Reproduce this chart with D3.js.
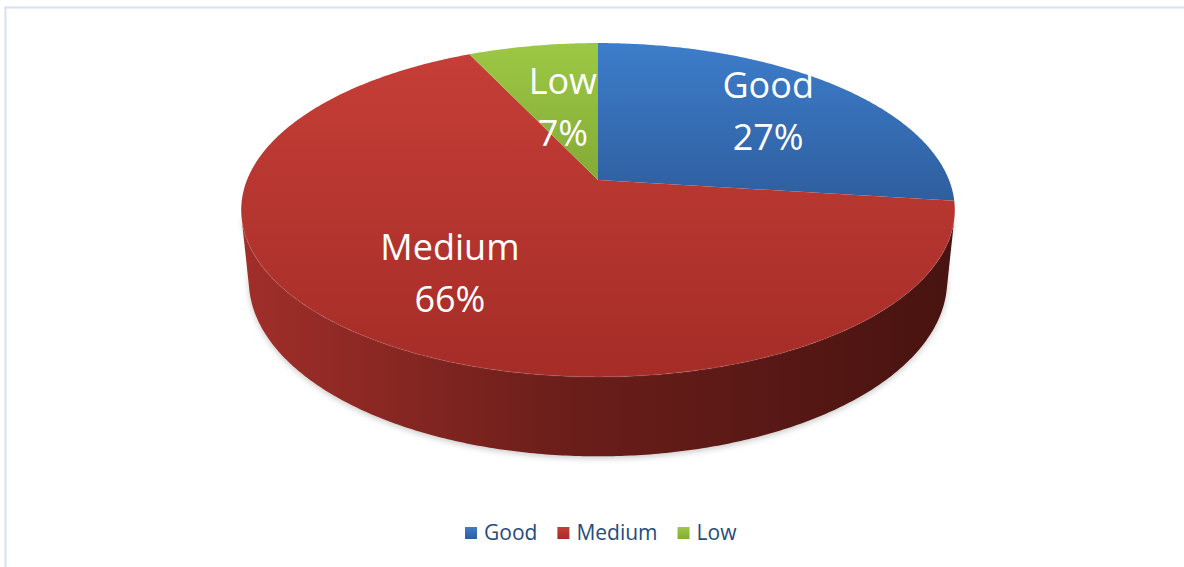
<!DOCTYPE html>
<html>
<head>
<meta charset="utf-8">
<script src="https://cdn.jsdelivr.net/npm/d3@7"></script>
<style>
  html, body { margin: 0; padding: 0; background: #fff; }
  svg { display: block; }
  text { font-family: "Open Sans", "Noto Sans", sans-serif; }
</style>
</head>
<body>
<svg id="chart" width="1184" height="567"></svg>
<script>
// Ratings share
const categories = ["Good", "Medium", "Low"];
const values = [27, 66, 7];
const percentLabels = ["27%", "66%", "7%"];

// Fill tones per category: top face (light, dark) and side wall (light, dark)
const topLight = ["#3d7dca", "#c53e37", "#9cc845"];
const topDark = ["#2e5e9f", "#a52c27", "#83ab36"];
const sideLight = ["#2c5a96", "#a02e29", "#7a9c33"];
const sideDark = ["#142c4c", "#481310", "#3d5019"];

const W = 1184, H = 567;
const svg = d3.select("#chart");

// Frame lines along the top and left edges
svg.append("line").attr("x1", 5).attr("y1", 7.5).attr("x2", W).attr("y2", 7.5)
  .attr("stroke", "#d4e2f3").attr("stroke-width", 2);
svg.append("line").attr("x1", 5.5).attr("y1", 6.5).attr("x2", 5.5).attr("y2", H)
  .attr("stroke", "#d4e2f3").attr("stroke-width", 2);

// Perspective view of a flat cylinder
const cx = 598, cy = 180;      // projected centre of the top face
const R = 351;                 // disk radius
const tilt = 27.4 * Math.PI / 180;
const sinT = Math.sin(tilt), cosT = Math.cos(tilt);
const dist = 1735;             // camera distance
const thick = 80;              // cylinder height

// a: angle clockwise from the far side, r: radius fraction, z: height (0 top, -thick bottom)
function project(a, r, z) {
  const u = r * R * Math.sin(a);
  const v = -r * R * Math.cos(a);
  const k = dist / (dist - (v * cosT + z * sinT));
  return [cx + u * k, cy + (v * sinT - z * cosT) * k];
}

const pie = d3.pie().sort(null).value(d => d).startAngle(0).endAngle(2 * Math.PI);
const arcs = pie(values);

const line = d3.line().curve(d3.curveLinear);
const closed = d3.line().curve(d3.curveLinearClosed);

function arcPoints(a0, a1, r, z) {
  const n = Math.max(2, Math.ceil((a1 - a0) / 0.01));
  return d3.range(n + 1).map(i => project(a0 + (a1 - a0) * i / n, r, z));
}

const defs = svg.append("defs");

// soft shadow under the disk
const blur = defs.append("filter").attr("id", "soft")
  .attr("x", "-10%").attr("y", "-10%").attr("width", "120%").attr("height", "130%");
blur.append("feGaussianBlur").attr("stdDeviation", 3);

categories.forEach((c, i) => {
  const gt = defs.append("linearGradient").attr("id", "top" + i)
    .attr("x1", 0).attr("y1", 0).attr("x2", 0).attr("y2", 1);
  gt.append("stop").attr("offset", "0%").attr("stop-color", topLight[i]);
  gt.append("stop").attr("offset", "100%").attr("stop-color", topDark[i]);

  const gs = defs.append("linearGradient").attr("id", "side" + i)
    .attr("gradientUnits", "userSpaceOnUse")
    .attr("x1", cx - R).attr("y1", 0).attr("x2", cx + R).attr("y2", 0);
  gs.append("stop").attr("offset", "0%").attr("stop-color", sideLight[i]);
  gs.append("stop").attr("offset", "45%").attr("stop-color", d3.interpolateRgb(sideLight[i], sideDark[i])(0.6));
  gs.append("stop").attr("offset", "100%").attr("stop-color", sideDark[i]);

  const gl = defs.append("linearGradient").attr("id", "key" + i)
    .attr("x1", 0).attr("y1", 0).attr("x2", 0).attr("y2", 1);
  gl.append("stop").attr("offset", "0%").attr("stop-color", topLight[i]);
  gl.append("stop").attr("offset", "100%").attr("stop-color", topDark[i]);
});

// Silhouette of the wall: tangent points seen from the camera
const camV = dist * cosT;
const aS = Math.acos(-R / camV);
const sideStart = aS, sideEnd = 2 * Math.PI - aS;

// shadow
const shadowPts = arcPoints(sideStart - 0.3, sideEnd + 0.3, 1.0, -thick)
  .map(p => [p[0], p[1] + 2]);
svg.append("path")
  .attr("d", closed(arcPoints(sideStart, sideEnd, 1, 0).concat(shadowPts.slice().reverse())))
  .attr("fill", "#000").attr("opacity", 0.22).attr("filter", "url(#soft)");

// side walls
arcs.forEach((d, i) => {
  const a0 = Math.max(d.startAngle, sideStart);
  const a1 = Math.min(d.endAngle, sideEnd);
  if (a1 <= a0) return;
  const topEdge = arcPoints(a0, a1, 1, 0);
  const botEdge = arcPoints(a0, a1, 1, -thick).reverse();
  svg.append("path")
    .attr("d", closed(topEdge.concat(botEdge)))
    .attr("fill", `url(#side${i})`);
});

// top faces
arcs.forEach((d, i) => {
  const pts = [project(0, 0, 0)].concat(arcPoints(d.startAngle, d.endAngle, 1, 0));
  svg.append("path")
    .attr("d", closed(pts))
    .attr("fill", `url(#top${i})`);
});

// faint rim highlight on the front edge of the top face
svg.append("path")
  .attr("d", line(arcPoints(sideStart, sideEnd, 1, 0)))
  .attr("fill", "none").attr("stroke", "#ffffff").attr("stroke-opacity", 0.05).attr("stroke-width", 2);

// Data labels
const labelRadius = [0.7, 0.65, 0.5];
arcs.forEach((d, i) => {
  const mid = (d.startAngle + d.endAngle) / 2;
  const [lx, ly] = project(mid, labelRadius[i], 0);
  const t = svg.append("text")
    .attr("x", lx).attr("y", ly)
    .attr("text-anchor", "middle")
    .attr("fill", "#fff")
    .attr("font-size", 36);
  t.append("tspan").attr("x", lx).attr("y", ly - 26).attr("dy", "0.35em").text(categories[i]);
  t.append("tspan").attr("x", lx).attr("y", ly + 26).attr("dy", "0.35em").text(percentLabels[i]);
});

// Legend
const legend = svg.append("g").attr("transform", "translate(465,527)");
let xOff = 0;
categories.forEach((c, i) => {
  const g = legend.append("g").attr("transform", `translate(${xOff},0)`);
  g.append("rect").attr("width", 12).attr("height", 12).attr("fill", `url(#key${i})`);
  const txt = g.append("text").attr("x", 19).attr("y", 6).attr("dy", "0.35em")
    .attr("font-size", 21).attr("fill", "#264b7d").text(c);
  xOff += 19 + txt.node().getComputedTextLength() + 20;
});
</script>
</body>
</html>
